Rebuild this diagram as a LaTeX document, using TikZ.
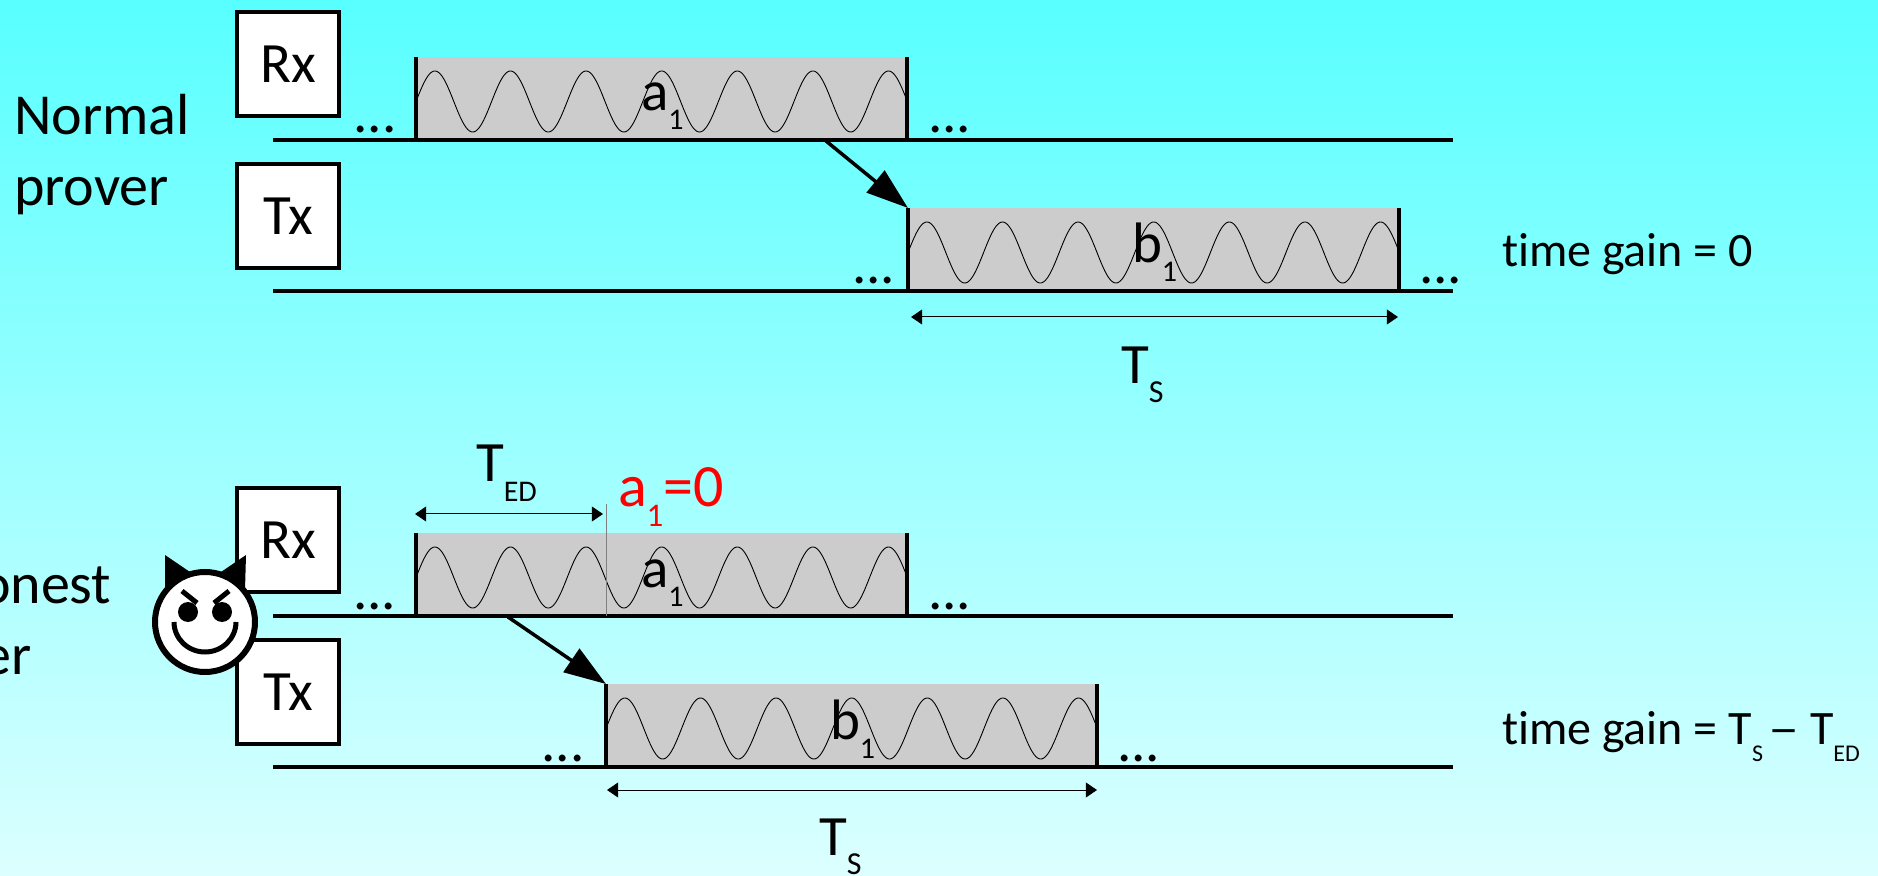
\documentclass[tikz,border=0pt]{standalone}
\usepackage{fontspec}
\setmainfont[Ligatures=NoCommon]{Carlito}
\usetikzlibrary{arrows.meta,calc}
\definecolor{bgtop}{RGB}{88,255,255}
\definecolor{bgbot}{RGB}{220,255,255}
\definecolor{pulsegray}{RGB}{204,204,204}
\newcommand{\szbig}{\fontsize{28.5}{30}\selectfont}
\newcommand{\szname}{\fontsize{29}{30}\selectfont}
\newcommand{\szred}{\fontsize{30}{32}\selectfont}
\newcommand{\szgain}{\fontsize{24}{26}\selectfont}
\newcommand{\lowsub}[3]{\raisebox{-#1pt}{\fontsize{#2}{#2}\selectfont #3}}
\tikzset{
  unitbox/.style={draw=black,fill=white,line width=2pt,minimum width=51.25pt,minimum height=52.2pt,inner sep=0pt,outer sep=0pt,font=\szbig},
  timeline/.style={line width=2pt},
  txt/.style={anchor=base west,inner sep=0pt,outer sep=0pt},
  txte/.style={anchor=base east,inner sep=0pt,outer sep=0pt,font=\szname},
  bigtxt/.style={txt,font=\szbig},
  nametxt/.style={txt,font=\szname},
  gaintxt/.style={txt,font=\szgain},
  dotstxt/.style={txt,font=\szbig},
  pulsebox/.style={fill=pulsegray,minimum width=245.5pt,minimum height=41.5pt,inner sep=0pt,outer sep=0pt,anchor=south west},
  edge/.style={line width=1.75pt},
  wave/.style={line width=0.45pt,black},
  flow/.style={line width=1.75pt,-{Triangle[length=21pt,width=14pt]},shorten >=0pt},
  dim/.style={line width=0.5pt,{Triangle[length=5.6pt,width=7.5pt]}-{Triangle[length=5.6pt,width=7.5pt]}}
}
\newcommand{\pulse}[3]{% name, x left, y bottom
  \node[pulsebox] (#1) at (#2,#3) {};
  \draw[wave] plot[domain=0:491,samples=400,variable=\t] ({#2+\t},{#3-38.5-30.5*sin(\t/75.6*360)});
  \draw[edge] (#1.north west) -- (#1.south west);
  \draw[edge] (#1.north east) -- (#1.south east);
}
\begin{document}
\begin{tikzpicture}[x=0.5pt,y=-0.5pt]
\useasboundingbox (0,0) rectangle (1878,876);
\shade[top color=bgtop,bottom color=bgbot] (0,0) rectangle (1878,876);
\clip (0,0) rectangle (1878,876);

% ---------- normal prover ----------
\node[nametxt] (nlabel1) at (14,135) {Normal};
\node[nametxt] (nlabel2) at (14,206) {prover};
\node[unitbox] (rx1) at (288,64) {\raisebox{-1pt}{Rx}};
\node[unitbox] (tx1) at (288,216) {\raisebox{-1pt}{Tx}};
\pulse{pa1}{416}{140}
\pulse{pb1}{908}{291}
\coordinate (l1s) at (273,140); \coordinate (l1e) at (1453,140);
\coordinate (l2s) at (273,291); \coordinate (l2e) at (1453,291);
\draw[timeline] (l1s) -- (l1e);
\draw[timeline] (l2s) -- (l2e);
\node[dotstxt] (d1) at (353.5,133) {...};
\node[dotstxt] (d2) at (928,133) {...};
\node[dotstxt] (d3) at (852,284) {...};
\node[dotstxt] (d4) at (1419,284) {...};
\node[bigtxt] (a1) at (641,111) {a\lowsub{9.5}{15}{1}};
\node[bigtxt] (b1) at (1132,263) {b\lowsub{9.5}{15}{1}};
\coordinate (fa1) at (826,141);
\draw[flow] (fa1) -- (pb1.north west);
\coordinate (da) at (911,317); \coordinate (db) at (1398,317);
\draw[dim] (da) -- (db);
\node[bigtxt] (ts1) at (1121,384) {T\lowsub{9.5}{16}{S}};
\node[gaintxt] (g1) at (1502,267) {time gain = 0};

% ---------- dishonest prover ----------
\node[txte] (dlabel1) at (111.5,603) {Dishonest};
\node[txte] (dlabel2) at (31.5,674) {prover};
\node[unitbox] (rx2) at (288,540) {\raisebox{-1pt}{Rx}};
\node[unitbox] (tx2) at (288,692) {\raisebox{-1pt}{Tx}};
\pulse{pa2}{416}{616}
\pulse{pb2}{606}{767}
\coordinate (l3s) at (273,616); \coordinate (l3e) at (1453,616);
\coordinate (l4s) at (273,767); \coordinate (l4e) at (1453,767);
\draw[timeline] (l3s) -- (l3e);
\draw[timeline] (l4s) -- (l4e);
\coordinate (mk1) at (606,504); \coordinate (mk2) at (606,616);
\draw[line width=0.5pt,color=black!50] (mk1) -- (mk2);
\node[dotstxt] (d5) at (353,609) {...};
\node[dotstxt] (d6) at (928,609) {...};
\node[dotstxt] (d7) at (541.5,761) {...};
\node[dotstxt] (d8) at (1117,761) {...};
\node[bigtxt] (a2) at (641,587) {a\lowsub{9.5}{15}{1}};
\node[bigtxt] (b2) at (830,739) {b\lowsub{9.5}{15}{1}};
\coordinate (fa2) at (508,617);
\draw[flow] (fa2) -- (pb2.north west);
\coordinate (dc) at (415,514); \coordinate (dd) at (603,514);
\draw[dim] (dc) -- (dd);
\coordinate (de) at (607,790); \coordinate (df) at (1097,790);
\draw[dim] (de) -- (df);
\node[bigtxt] (ted) at (476,482) {T\lowsub{9.5}{15}{ED}};
\node[txt,font=\szred,text=red] (red) at (618,507) {a\lowsub{9.5}{16.5}{1}=0};
\node[bigtxt] (ts2) at (819,855) {T\lowsub{9.5}{16}{S}};
\node[gaintxt] (g2) at (1502,744) {time gain = T\lowsub{8.5}{12}{S}\hspace{2.5pt}\scalebox{1.3}[1]{--} T\lowsub{8.5}{12}{ED}};

% ---------- devil ----------
\fill[black] (165,555) -- (165,590) -- (190,572) -- cycle;
\fill[black] (246,555) -- (245,590) -- (221,572) -- cycle;
\draw[line width=3pt,fill=white] (205,622) circle (50);
\fill[black] (188,612) circle (10);
\fill[black] (222,612) circle (10);
\coordinate (bl1) at (182,591); \coordinate (bl2) at (197,603);
\coordinate (br1) at (229,591); \coordinate (br2) at (214,603);
\draw[line width=2.5pt] (bl1) -- (bl2);
\draw[line width=2.5pt] (br1) -- (br2);
\draw[line width=2.5pt] (174,622) arc[start angle=180,end angle=0,x radius=31,y radius=30];
\end{tikzpicture}
\end{document}
